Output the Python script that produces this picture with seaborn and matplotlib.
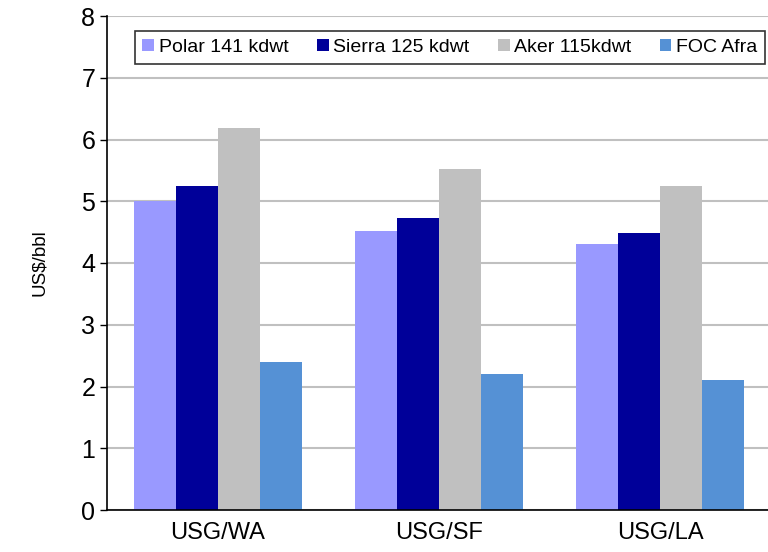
import matplotlib
matplotlib.use("Agg")
import matplotlib.pyplot as plt
import seaborn as sns
import pandas as pd

routes = ["USG/WA", "USG/SF", "USG/LA"]
series = ["Polar 141 kdwt", "Sierra 125 kdwt", "Aker 115kdwt", "FOC Afra"]
polar = [5.0, 4.52, 4.31]
sierra = [5.25, 4.73, 4.49]
aker = [6.19, 5.52, 5.24]
foc = [2.4, 2.2, 2.1]
colors = ["#9999FF", "#000099", "#C0C0C0", "#5591D5"]
yticks = [0, 1, 2, 3, 4, 5, 6, 7, 8]

sns.set_style("white")
plt.rcParams["font.family"] = ["Liberation Sans", "DejaVu Sans"]
plt.rcParams["text.color"] = "black"
plt.rcParams["axes.labelcolor"] = "black"
plt.rcParams["xtick.color"] = "black"
plt.rcParams["ytick.color"] = "black"

rows = []
for name, vals in zip(series, [polar, sierra, aker, foc]):
    for r, v in zip(routes, vals):
        rows.append({"route": r, "series": name, "value": v})
df = pd.DataFrame(rows)

fig = plt.figure(figsize=(7.68, 5.52), dpi=100)
ax = fig.add_axes([107 / 768, 1 - 510 / 552, 664 / 768, 494 / 552])

sns.barplot(data=df, x="route", y="value", hue="series", order=routes,
            hue_order=series, palette=colors, width=0.76, saturation=1,
            linewidth=0, ax=ax, legend=True)

ax.set_xlim(-0.5, 2.5)
ax.set_ylim(0, 8)
ax.set_yticks(yticks)
ax.yaxis.grid(True, color="#C0C0C0", linewidth=1.5)
ax.set_axisbelow(True)
ax.xaxis.grid(False)
for s in ["top", "right"]:
    ax.spines[s].set_visible(False)
for s in ["left", "bottom"]:
    ax.spines[s].set_color("black")
    ax.spines[s].set_linewidth(1.2)
ax.tick_params(axis="y", which="both", left=True, length=5, width=1, color="black",
               labelsize=18, pad=3.5, labelcolor="black")
ax.tick_params(axis="x", bottom=False, labelsize=17, pad=5, labelcolor="black")
ax.set_xlabel("")
ax.set_ylabel("US$/bbl", fontsize=13.5, labelpad=24, color="black")

handles, labels = ax.get_legend_handles_labels()
leg = ax.legend(handles, labels, ncol=4, loc="upper center",
                bbox_to_anchor=(450 / 768, 1 - 31 / 552),
                bbox_transform=fig.transFigure,
                frameon=True, fancybox=False, fontsize=14, handlelength=0.6,
                handleheight=0.6, handletextpad=0.25, columnspacing=1.45,
                borderpad=0.4, borderaxespad=0)
leg.get_frame().set_edgecolor("black")
leg.get_frame().set_linewidth(1.2)
for t in leg.get_texts():
    t.set_color("black")

fig.savefig("out.png", dpi=100)
